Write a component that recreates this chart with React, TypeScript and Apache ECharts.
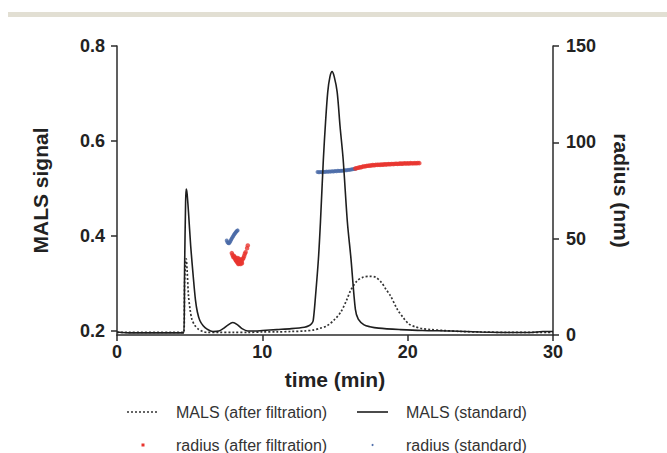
import React, { useEffect, useRef } from "react";
import * as echarts from "echarts";

const xTicks = [0, 10, 20, 30];
const leftTicks = [0.2, 0.4, 0.6, 0.8];
const rightTicks = [0, 50, 100, 150];

const legendNames = [
  "MALS (after filtration)",
  "MALS (standard)",
  "radius (after filtration)",
  "radius (standard)",
];

// MALS (standard): [time, signal]
const malsStandard = [
  [0, 0.198], [1, 0.196], [2, 0.196], [3, 0.196], [4, 0.196], [4.6, 0.196],
  [4.65, 0.33], [4.72, 0.47], [4.76, 0.499], [4.82, 0.49], [4.92, 0.45],
  [5.07, 0.379], [5.26, 0.31], [5.4, 0.265], [5.53, 0.24], [5.7, 0.222],
  [5.93, 0.211], [6.2, 0.204], [6.6, 0.199], [7.0, 0.2], [7.3, 0.205],
  [7.6, 0.212], [7.97, 0.218], [8.3, 0.213], [8.6, 0.205], [9.0, 0.2],
  [9.5, 0.2], [10, 0.201], [11, 0.203], [12, 0.205], [12.9, 0.208],
  [13.2, 0.211], [13.4, 0.216], [13.5, 0.222], [13.65, 0.27], [13.86, 0.352],
  [14.0, 0.43], [14.2, 0.562], [14.35, 0.64], [14.5, 0.703], [14.65, 0.735],
  [14.8, 0.746], [14.95, 0.735], [15.15, 0.703], [15.35, 0.63], [15.56, 0.562],
  [15.85, 0.43], [16.1, 0.352], [16.4, 0.246], [16.6, 0.225], [17.0, 0.213],
  [17.4, 0.209], [18, 0.206], [19.5, 0.203], [21, 0.201], [23, 0.2],
  [25, 0.198], [27, 0.197], [28.5, 0.197], [29.3, 0.199], [30, 0.199],
];

// MALS (after filtration): [time, signal]
const malsFiltered = [
  [0, 0.197], [4.6, 0.197], [4.65, 0.3], [4.72, 0.345], [4.76, 0.352],
  [4.82, 0.33], [4.92, 0.274], [5.03, 0.245], [5.15, 0.225], [5.35, 0.212],
  [5.6, 0.204], [5.9, 0.199], [6.2, 0.197], [7, 0.197], [8, 0.197],
  [9, 0.197], [10, 0.198], [11, 0.198], [12, 0.199], [12.9, 0.2],
  [13.5, 0.202], [14, 0.206], [14.46, 0.211], [15, 0.225], [15.4, 0.24],
  [15.8, 0.265], [16.07, 0.285], [16.5, 0.305], [16.9, 0.313], [17.4, 0.315],
  [17.8, 0.313], [18.2, 0.302], [18.5, 0.288], [18.8, 0.275], [19.3, 0.245],
  [19.7, 0.228], [20.07, 0.215], [20.5, 0.209], [21, 0.205], [21.6, 0.203],
  [22.5, 0.201], [23.7, 0.199], [25, 0.198], [27, 0.197], [30, 0.197],
];

// radius (standard): [time, nm]
const radiusStandard = [
  [7.55, 49.0], [7.6, 48.2], [7.65, 47.7], [7.7, 47.6], [7.75, 48.0],
  [7.8, 48.7], [7.85, 49.4], [7.9, 50.1], [7.95, 50.8], [8.0, 51.4],
  [8.05, 52.0], [8.1, 52.6], [8.15, 53.1], [8.2, 53.6], [8.25, 54.0], [8.3, 54.3],
  [13.8, 84.6], [13.9, 84.5], [14.0, 84.6], [14.1, 84.5], [14.2, 84.7],
  [14.3, 84.6], [14.4, 84.8], [14.5, 84.7], [14.6, 84.9], [14.7, 84.8],
  [14.8, 85.0], [14.9, 84.9], [15.0, 85.1], [15.1, 85.0], [15.2, 85.2],
  [15.3, 85.1], [15.4, 85.3], [15.5, 85.3], [15.6, 85.4], [15.7, 85.5],
  [15.8, 85.5], [15.9, 85.7], [16.0, 85.7], [16.1, 85.9], [16.2, 86.0],
  [16.3, 86.2], [16.4, 86.3],
];

// radius (after filtration): [time, nm]
const radiusFiltered = [
  [7.9, 42.5], [7.95, 41.5], [8.0, 40.5], [8.05, 41.0], [8.1, 39.8],
  [8.15, 39.0], [8.2, 38.5], [8.25, 38.0], [8.3, 37.5], [8.35, 38.2],
  [8.4, 37.0], [8.45, 37.8], [8.5, 36.8], [8.55, 37.5], [8.6, 38.5],
  [8.65, 39.5], [8.7, 40.0], [8.75, 41.0], [8.8, 42.2], [8.85, 43.0],
  [8.95, 45.0], [9.0, 46.5], [8.1, 40.5], [8.2, 39.8], [8.3, 40.0],
  [8.4, 39.5], [8.5, 39.0], [8.35, 36.8], [8.45, 39.0], [8.6, 37.2],
  [16.4, 86.4], [16.5, 86.6], [16.6, 86.8], [16.7, 87.0], [16.8, 87.1],
  [16.9, 87.4], [17.0, 87.5], [17.1, 87.6], [17.2, 87.8], [17.3, 87.8],
  [17.4, 88.0], [17.5, 88.0], [17.6, 88.2], [17.7, 88.1], [17.8, 88.3],
  [17.9, 88.3], [18.0, 88.4], [18.1, 88.3], [18.2, 88.5], [18.3, 88.4],
  [18.4, 88.6], [18.5, 88.5], [18.6, 88.6], [18.7, 88.7], [18.8, 88.6],
  [18.9, 88.8], [19.0, 88.7], [19.1, 88.8], [19.2, 88.9], [19.3, 88.8],
  [19.4, 88.9], [19.5, 89.0], [19.6, 88.9], [19.7, 89.0], [19.8, 89.1],
  [19.9, 89.0], [20.0, 89.1], [20.1, 89.0], [20.2, 89.2], [20.3, 89.1],
  [20.4, 89.1], [20.5, 89.2], [20.6, 89.1], [20.7, 89.3], [20.8, 89.2],
];

const AXIS = "#2b2b2b";
const FONT = "'Liberation Sans', Arial, sans-serif";
const RED = "#e8352e";
const BLUE = "#4a6aa8";

export default function App() {
  const ref = useRef<HTMLDivElement>(null);
  useEffect(() => {
    if (!ref.current) return;
    const chart = echarts.init(ref.current, null, { renderer: "svg" });
    const axisLabel = { color: "#222", fontFamily: FONT, fontWeight: "bold", fontSize: 18 };
    const nameStyle = { color: "#222", fontFamily: FONT, fontWeight: "bold", fontSize: 21 };
    const legendText = { fill: "#333", font: `16px ${FONT}`, verticalAlign: "middle" };
    chart.setOption({
      animation: false,
      backgroundColor: "#fff",
      grid: { left: 117, right: 114, top: 46, bottom: 118 },
      xAxis: {
        type: "value",
        min: 0,
        max: 30,
        interval: 10,
        name: "time (min)",
        nameLocation: "middle",
        nameGap: 34,
        nameTextStyle: nameStyle,
        axisLine: { show: true, lineStyle: { color: AXIS, width: 1.5 } },
        axisTick: { show: true, length: 6, lineStyle: { color: AXIS, width: 1.5 }, customValues: xTicks },
        axisLabel: { ...axisLabel, margin: 8, customValues: xTicks },
        splitLine: { show: false },
      },
      yAxis: [
        {
          type: "value",
          min: 0.1916,
          max: 0.8,
          name: "MALS signal",
          nameLocation: "middle",
          nameGap: 66,
          nameRotate: 90,
          nameTextStyle: nameStyle,
          axisLine: { show: true, lineStyle: { color: AXIS, width: 1.5 } },
          axisTick: { show: true, length: 6, lineStyle: { color: AXIS, width: 1.5 }, customValues: leftTicks },
          axisLabel: { ...axisLabel, margin: 12, customValues: leftTicks, formatter: (v: number) => v.toFixed(1) },
          splitLine: { show: false },
        },
        {
          type: "value",
          position: "right",
          min: 0,
          max: 150,
          name: "radius (nm)",
          nameLocation: "middle",
          nameGap: 58,
          nameRotate: -90,
          nameTextStyle: nameStyle,
          axisLine: { show: true, lineStyle: { color: AXIS, width: 1.5 } },
          axisTick: { show: true, length: 6, lineStyle: { color: AXIS, width: 1.5 }, customValues: rightTicks },
          axisLabel: { ...axisLabel, margin: 13, customValues: rightTicks },
          splitLine: { show: false },
        },
      ],
      series: [
        {
          name: legendNames[3],
          type: "scatter",
          yAxisIndex: 1,
          data: radiusStandard,
          symbol: "circle",
          symbolSize: 4,
          itemStyle: { color: BLUE },
          z: 2,
        },
        {
          name: legendNames[2],
          type: "scatter",
          yAxisIndex: 1,
          data: radiusFiltered,
          symbol: "circle",
          symbolSize: 4.5,
          itemStyle: { color: RED },
          z: 2,
        },
        {
          name: legendNames[0],
          type: "line",
          yAxisIndex: 0,
          data: malsFiltered,
          showSymbol: false,
          smooth: 0.3,
          lineStyle: { color: "#333", width: 1.7, type: [2, 2] },
          z: 3,
        },
        {
          name: legendNames[1],
          type: "line",
          yAxisIndex: 0,
          data: malsStandard,
          showSymbol: false,
          smooth: 0.3,
          lineStyle: { color: "#1e1e1e", width: 1.6 },
          z: 4,
        },
      ],
      graphic: [
        { type: "rect", shape: { x: 8, y: 12, width: 659, height: 5 }, style: { fill: "#e2dfd3" } },
        { type: "line", shape: { x1: 127, y1: 412, x2: 158, y2: 412 }, style: { stroke: "#333", lineWidth: 1.6, lineDash: [2, 2] } },
        { type: "text", x: 176, y: 412, style: { ...legendText, text: legendNames[0] } },
        { type: "line", shape: { x1: 357, y1: 412, x2: 388, y2: 412 }, style: { stroke: "#1e1e1e", lineWidth: 1.6 } },
        { type: "text", x: 406, y: 412, style: { ...legendText, text: legendNames[1] } },
        { type: "rect", shape: { x: 141.5, y: 443.5, width: 3, height: 3 }, style: { fill: RED } },
        { type: "text", x: 176, y: 445, style: { ...legendText, text: legendNames[2] } },
        { type: "circle", shape: { cx: 372.5, cy: 445, r: 1 }, style: { fill: BLUE } },
        { type: "text", x: 406, y: 445, style: { ...legendText, text: legendNames[3] } },
      ],
    });
    return () => chart.dispose();
  }, []);
  return (
    <div
      ref={ref}
      style={{ position: "fixed", left: 0, top: 0, width: 667, height: 453, background: "#fff" }}
    />
  );
}
